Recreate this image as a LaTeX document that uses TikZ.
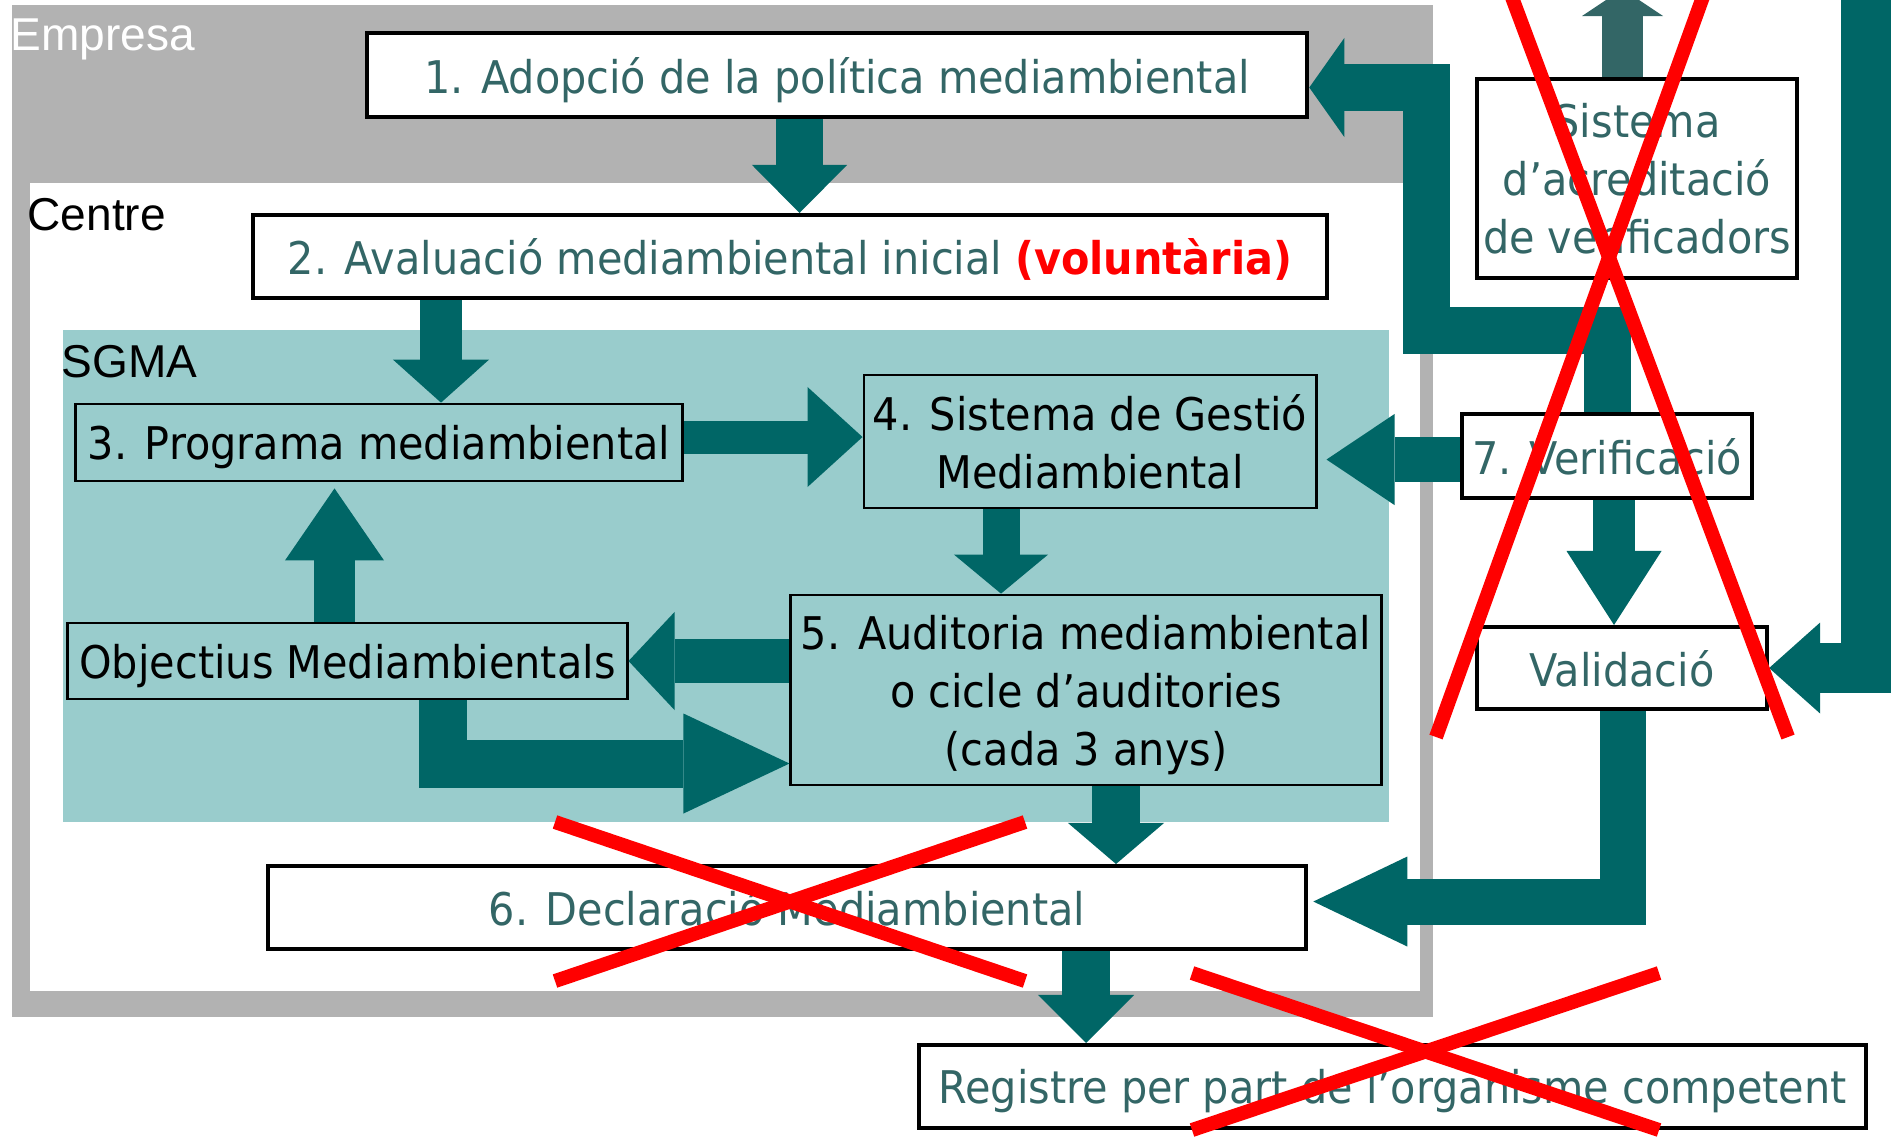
\documentclass[tikz,border=0pt]{standalone}
\usepackage{fontspec}
\setmainfont{Liberation Sans}
\newfontfamily\boxfont{DejaVu Sans}[FakeStretch=0.92]
\usepackage{tikz}
\usetikzlibrary{arrows.meta,positioning}
\definecolor{arrteal}{RGB}{0,102,102}
\definecolor{arrgray}{RGB}{51,102,102}
\definecolor{txtteal}{RGB}{51,102,102}
\definecolor{empgray}{RGB}{178,178,178}
\definecolor{sgmateal}{RGB}{153,204,204}
\newcommand\boxtext{\boxfont\fontsize{12.8pt}{16.5pt}\selectfont}
\newcommand\labeltext{\fontsize{13.1pt}{15pt}\selectfont}
\tikzset{
  boxw/.style = {draw=black, line width=0.04cm, fill=white, align=center,
    inner sep=0pt, text depth=0pt, font=\boxtext, text=txtteal},% caixa blanca
  boxs/.style = {draw=black, line width=0.027cm, align=center,
    inner sep=0pt, text depth=0pt, font=\boxtext, text=black},% caixa dins SGMA
  blockarr/.style n args = {3}{draw=arrteal, line width=#1, line join=miter,
    -{Triangle[length=#2, width=#3, line width=0pt]}},% fletxa gruixuda
  crossline/.style = {draw=red, line width=0.14cm},
  regionlbl/.style = {anchor=base west, inner sep=0pt, font=\labeltext}
}

\begin{document}
\begin{tikzpicture}[x=0.01cm, y=-0.01cm]
        \useasboundingbox (0,0) rectangle (1892,1138);
        \clip (0,0) rectangle (1892,1138);

        \fill[empgray] (12,5) rectangle (1433,1017);
        \fill[white] (30,183) rectangle (1420,991);
        \fill[sgmateal] (63,330) rectangle (1389,822);

        \node [regionlbl, text=white](empresa) at (10,50){Empresa};
        \node [regionlbl](centre) at (27,230){Centre};
        \node [regionlbl](sgma) at (61,377){SGMA};

        \node [boxw, minimum width=9.40cm, minimum height=0.84cm](adop) at (837,75){1. Adopció de la política mediambiental};
        \node [boxw, minimum width=10.74cm, minimum height=0.83cm](aval) at (790,256.5){2. Avaluació mediambiental inicial {\color{red}\bfseries(voluntària)}};
        \node [boxs, minimum width=6.06cm, minimum height=0.77cm](prog) at (379,442.5){3. Programa mediambiental};
        \node [boxs, minimum width=4.52cm, minimum height=1.33cm](gest) at (1090,441.5){4. Sistema de Gestió\\Mediambiental};
        \node [boxs, minimum width=5.59cm, minimum height=0.76cm](obj) at (347.5,661){Objectius Mediambientals};
        \node [boxs, minimum width=5.90cm, minimum height=1.90cm](aud) at (1086,690){5. Auditoria mediambiental\\o cicle d’auditories\\(cada 3 anys)};
        \node [boxw, minimum width=10.38cm, minimum height=0.83cm](decl) at (787,907.5){6. Declaració Mediambiental};
        \node [boxw, minimum width=9.47cm, minimum height=0.83cm](reg) at (1392.5,1086.5){Registre per part de l’organisme competent};
        \node [boxw, minimum width=3.20cm, minimum height=1.99cm](acred) at (1637,178.5){Sistema\\d’acreditació\\de verificadors};
        \node [boxw, minimum width=2.90cm, minimum height=0.84cm](verif) at (1607,456){7. Verificació};
        \node [boxw, minimum width=2.90cm, minimum height=0.82cm](valid) at (1622,668){Validació};

        \coordinate (verifbend) at (1426,330);
        \coordinate (rightbar) at (1866,-20);
        \coordinate (acredtop) at (1622.5,-11);

        \draw [blockarr={0.47cm}{0.48cm}{0.95cm}] (adop.south -| 799.5,0) -- (aval.north -| 799.5,0);
        \draw [blockarr={0.41cm}{0.43cm}{0.96cm}] (aval.south -| 441,0) -- (prog.north -| 441,0);
        \draw [blockarr={0.33cm}{0.55cm}{1.00cm}] (prog.east |- 0,437) -- (gest.west |- 0,437);
        \draw [blockarr={0.37cm}{0.39cm}{0.94cm}] (gest.south -| 1001,0) -- (aud.north -| 1001,0);
        \draw [blockarr={0.44cm}{0.46cm}{0.98cm}] (aud.west |- 0,661) -- (obj.east |- 0,661);
        \draw [blockarr={0.41cm}{0.72cm}{0.99cm}, shorten >=0.06cm] (obj.north -| 334.5,0) -- (prog.south -| 334.5,0);
        \draw [blockarr={0.48cm}{1.06cm}{1.00cm}] (obj.south -| 443,0) |- (aud.west |- 0,763.5);
        \draw [blockarr={0.48cm}{0.41cm}{0.96cm}] (aud.south -| 1116,0) -- (decl.north -| 1116,0);
        \draw [blockarr={0.48cm}{0.48cm}{0.96cm}] (decl.south -| 1086,0) -- (reg.north -| 1086,0);
        \draw [blockarr={0.45cm}{0.68cm}{0.91cm}, shorten >=0.09cm] (verif.west |- 0,459.5) -- (gest.east |- 0,459.5);
        \draw [blockarr={0.42cm}{0.74cm}{0.95cm}] (verif.south -| 1614,0) -- (valid.north -| 1614,0);
        \draw [blockarr={0.46cm}{0.94cm}{0.90cm}, shorten >=0.05cm] (valid.south -| 1623,0) |- (decl.east |- 0,901.5);
        \draw [blockarr={0.47cm}{0.35cm}{0.99cm}] (verif.north -| 1607,0) |- (verifbend) |- (adop.east |- 0,87.5);
        \draw [blockarr={0.50cm}{0.51cm}{0.91cm}] (rightbar) |- (valid.east);
        \draw [blockarr={0.41cm}{0.27cm}{0.81cm}, draw=arrgray] (acred.north -| 1622.5,0) -- (acredtop);

        \draw [crossline] (555,822) -- (1025,981);
        \draw [crossline] (1025,822) -- (555,981);
        \draw [crossline] (1192,973) -- (1659,1130);
        \draw [crossline] (1659,973) -- (1192,1130);
        \draw [crossline] (1505.5,-20) -- (1788,737);
        \draw [crossline] (1709,-20) -- (1436,737);

        \end{tikzpicture}
\end{document}
